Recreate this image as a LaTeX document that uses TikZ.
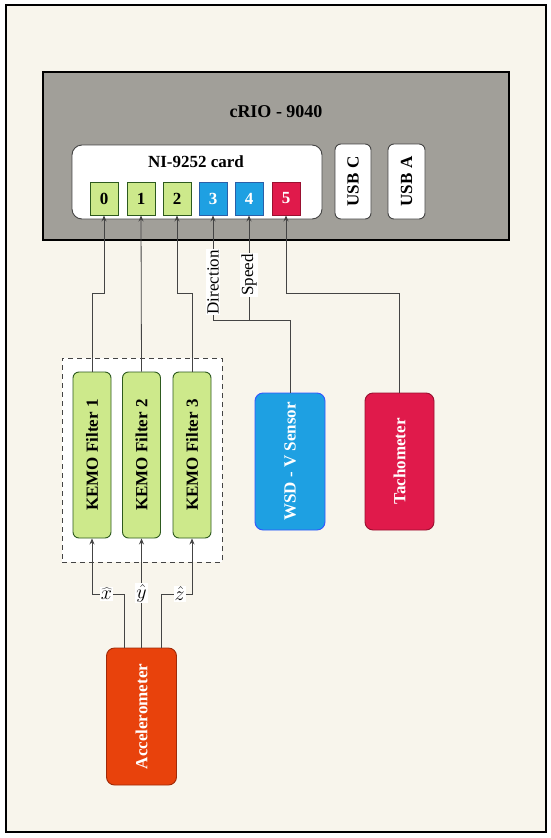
\documentclass[tikz,border=0pt]{standalone}
\usepackage{fix-cm}
\usepackage{fontspec}
\setmainfont{Liberation Serif}
\usetikzlibrary{arrows.meta,calc}
\definecolor{bgc}{HTML}{F8F5EC}
\definecolor{crioc}{HTML}{A19F99}
\definecolor{grn}{HTML}{CDE98B}
\definecolor{grnd}{HTML}{2D5A1E}
\definecolor{blu}{HTML}{1EA0E2}
\definecolor{blud}{HTML}{2A5FA8}
\definecolor{wsdb}{HTML}{3355FF}
\definecolor{crim}{HTML}{E01A4B}
\definecolor{crimd}{HTML}{9A1030}
\definecolor{accc}{HTML}{E8420C}
\definecolor{accd}{HTML}{A02A08}
\definecolor{linec}{HTML}{444444}
\begin{document}
\begin{tikzpicture}[x=1pt,y=-1pt,
  font=\fontsize{17}{20}\selectfont\bfseries,
  box/.style={draw, inner sep=0pt, line width=0.9pt},
  chan/.style={box, minimum width=28pt, minimum height=33pt},
  filt/.style={box, fill=grn, draw=grnd, rounded corners=6pt, minimum width=38pt, minimum height=166pt},
  sens/.style={box, rounded corners=8pt, minimum width=70pt, minimum height=137pt, text=white},
  conn/.style={draw=linec, line width=0.8pt},
  arr/.style={conn, -{Stealth[length=6pt,width=5pt]}},
  lab/.style={fill=white, inner sep=1pt, font=\fontsize{17}{20}\selectfont\normalfont, text=black},
  mlab/.style={fill=white, inner sep=1pt, font=\fontsize{20}{24}\selectfont\normalfont, text=black}
]
\useasboundingbox (0,0) rectangle (550,838);
\fill[white] (0,0) rectangle (550,838);
\draw[line width=2.5pt, fill=bgc] (6,5) rectangle (546,832);

% cRIO
\node[box, line width=2.5pt, fill=crioc, minimum width=466pt, minimum height=168pt] (crio) at (276,156) {};
\node[font=\fontsize{18}{21}\selectfont\bfseries] (criot) at (276,112) {cRIO - 9040};
\node[box, draw=linec, fill=white, rounded corners=10pt, minimum width=250pt, minimum height=74pt] (card) at (197,182) {};
\node (cardt) at (196,162) {NI-9252 card};
\node[chan, fill=grn, draw=grnd] (c0) at (104,198.5) {0};
\node[chan, fill=grn, draw=grnd] (c1) at (141,198.5) {1};
\node[chan, fill=grn, draw=grnd] (c2) at (177,198.5) {2};
\node[chan, fill=blu, draw=blud, text=white] (c3) at (213,198.5) {3};
\node[chan, fill=blu, draw=blud, text=white] (c4) at (249,198.5) {4};
\node[chan, fill=crim, draw=crimd, text=white] (c5) at (286,198.5) {5};
\node[box, draw=linec, fill=white, rounded corners=6pt, minimum width=36pt, minimum height=75pt] (usbc) at (353,181.5) {};
\node[rotate=90] (usbct) at (usbc.center) {USB C};
\node[box, draw=linec, fill=white, rounded corners=6pt, minimum width=37pt, minimum height=75pt] (usba) at (406.5,181.5) {};
\node[rotate=90] (usbat) at (usba.center) {USB A};

% filters
\node[draw=linec, line width=0.9pt, fill=white, minimum width=160pt, minimum height=204pt, inner sep=0pt, dash pattern=on 5pt off 4pt] (grp) at (142,460) {};
\node[filt] (f1) at (92,455) {};
\node[rotate=90] (f1t) at (f1.center) {KEMO Filter 1};
\node[filt] (f2) at (141.5,455) {};
\node[rotate=90] (f2t) at (f2.center) {KEMO Filter 2};
\node[filt] (f3) at (192,455) {};
\node[rotate=90] (f3t) at (f3.center) {KEMO Filter 3};

% sensors
\node[sens, fill=blu, draw=wsdb] (wsd) at (290,461.5) {};
\node[rotate=90, text=white] (wsdt) at (wsd.center) {WSD - V Sensor};
\node[sens, fill=crim, draw=crimd, minimum width=69pt] (tach) at (399.5,461.5) {};
\node[rotate=90, text=white] (tacht) at (tach.center) {Tachometer};
\node[sens, fill=accc, draw=accd] (acc) at (141.5,716.5) {};
\node[rotate=90, text=white] (acct) at (acc.center) {Accelerometer};

% connectors
\coordinate (yA) at (0,293);
\coordinate (yB) at (0,320);
\coordinate (yC) at (0,594);
\draw[arr] (f1.north) -- (f1.north |- yA) -- (c0.south |- yA) -- (c0.south);
\draw[arr] (f2.north) -- (c1.south);
\draw[arr] (f3.north) -- (f3.north |- yA) -- (c2.south |- yA) -- (c2.south);
\draw[arr] (wsd.north) -- (wsd.north |- yB) -- (c3.south |- yB) -- node[lab, rotate=90, pos=0.36] {Direction} (c3.south);
\draw[arr] (c4.south |- yB) -- node[lab, rotate=90, pos=0.43] {Speed} (c4.south);
\draw[arr] (tach.north) -- (tach.north |- yA) -- (c5.south |- yA) -- (c5.south);

\coordinate (a1) at ($(acc.north)+(-17.5,0)$);
\coordinate (a3) at ($(acc.north)+(19.5,0)$);
\draw[arr] (a1) -- (a1 |- yC) -- node[mlab, pos=0.55] {$\widehat{x}$} (f1.south |- yC) -- (f1.south);
\draw[arr] (acc.north) -- node[mlab, pos=0.5] {$\hat{y}$} (f2.south);
\draw[arr] (a3) -- (a3 |- yC) -- node[mlab, pos=0.6] {$\hat{z}$} (f3.south |- yC) -- (f3.south);
\end{tikzpicture}
\end{document}
